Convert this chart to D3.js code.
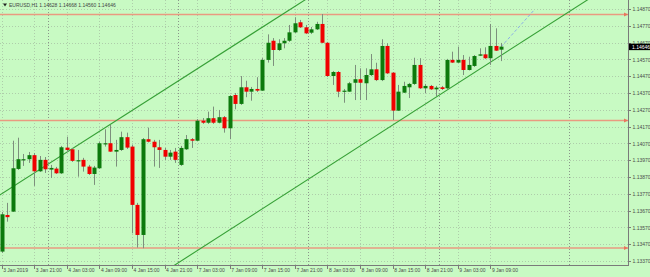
<!DOCTYPE html>
<html>
<head>
<meta charset="utf-8">
<script src="https://cdn.jsdelivr.net/npm/d3@7"></script>
<style>
  body { margin: 0; background: #c8fac3; }
  svg { display: block; font-family: "Liberation Sans", Arial, sans-serif; }
  .axis text { fill: #4a4a4a; font-size: 5px; }
  .axis path, .axis line { stroke: #7a7a7a; shape-rendering: crispEdges; }
</style>
</head>
<body>
<div class="svgContainer"></div>
<script>
// EURUSD H1, 3 Jan 2019 15:00 .. 9 Jan 2019 11:00
const symbolTitle = "EURUSD,H1";

const open = [
  1.13426, 1.13644, 1.13664, 1.13918, 1.13973, 1.13976, 1.14000, 1.13904, 1.13972, 1.13914,
  1.13920, 1.13892, 1.14045, 1.14035, 1.13967, 1.13972, 1.13932, 1.13888, 1.13922, 1.14069,
  1.14071, 1.14021, 1.14031, 1.14107, 1.14051, 1.13704, 1.13525, 1.14095, 1.14080, 1.14047,
  1.14031, 1.13991, 1.14021, 1.13942, 1.14035, 1.14095, 1.14086, 1.14205, 1.14193, 1.14220,
  1.14193, 1.14226, 1.14160, 1.14358, 1.14305, 1.14404, 1.14378, 1.14394, 1.14384, 1.14567,
  1.14681, 1.14626, 1.14666, 1.14681, 1.14731, 1.14791, 1.14761, 1.14729, 1.14749, 1.14781,
  1.14669, 1.14471, 1.14495, 1.14382, 1.14378, 1.14431, 1.14452, 1.14428, 1.14477, 1.14511,
  1.14447, 1.14650, 1.14491, 1.14265, 1.14372, 1.14404, 1.14424, 1.14537, 1.14398, 1.14412,
  1.14392, 1.14404, 1.14398, 1.14567, 1.14551, 1.14567, 1.14507, 1.14531, 1.14592, 1.14600,
  1.14577, 1.14650, 1.14628
];
const high = [
  1.13662, 1.13716, 1.14086, 1.14104, 1.14007, 1.14019, 1.14013, 1.13995, 1.13989, 1.13942,
  1.13930, 1.14055, 1.14110, 1.14043, 1.14031, 1.13984, 1.13942, 1.13936, 1.14080, 1.14154,
  1.14180, 1.14091, 1.14140, 1.14134, 1.14061, 1.13716, 1.14102, 1.14164, 1.14091, 1.14091,
  1.14043, 1.14031, 1.14043, 1.14055, 1.14120, 1.14102, 1.14215, 1.14221, 1.14259, 1.14289,
  1.14269, 1.14233, 1.14358, 1.14370, 1.14471, 1.14443, 1.14406, 1.14464, 1.14578, 1.14719,
  1.14697, 1.14690, 1.14697, 1.14775, 1.14821, 1.14805, 1.14775, 1.14763, 1.14794, 1.14840,
  1.14674, 1.14501, 1.14501, 1.14394, 1.14436, 1.14537, 1.14517, 1.14517, 1.14602, 1.14550,
  1.14690, 1.14666, 1.14495, 1.14418, 1.14437, 1.14430, 1.14580, 1.14577, 1.14424, 1.14418,
  1.14412, 1.14412, 1.14573, 1.14616, 1.14646, 1.14596, 1.14586, 1.14596, 1.14636, 1.14642,
  1.14781, 1.14755, 1.14668
];
const low = [
  1.13418, 1.13604, 1.13662, 1.13912, 1.13936, 1.13954, 1.13817, 1.13900, 1.13894, 1.13864,
  1.13888, 1.13888, 1.14019, 1.13960, 1.13872, 1.13902, 1.13882, 1.13823, 1.13918, 1.14051,
  1.14019, 1.13932, 1.14025, 1.14037, 1.13535, 1.13450, 1.13446, 1.14076, 1.13932, 1.13924,
  1.13972, 1.13972, 1.13954, 1.13936, 1.14031, 1.14043, 1.14084, 1.14186, 1.14186, 1.14186,
  1.14189, 1.14134, 1.14095, 1.14273, 1.14299, 1.14345, 1.14324, 1.14376, 1.14382, 1.14551,
  1.14531, 1.14620, 1.14636, 1.14674, 1.14727, 1.14757, 1.14721, 1.14721, 1.14745, 1.14666,
  1.14465, 1.14418, 1.14345, 1.14312, 1.14376, 1.14328, 1.14328, 1.14328, 1.14471, 1.14441,
  1.14441, 1.14483, 1.14209, 1.14263, 1.14370, 1.14340, 1.14418, 1.14394, 1.14370, 1.14388,
  1.14352, 1.14388, 1.14394, 1.14549, 1.14549, 1.14477, 1.14504, 1.14525, 1.14590, 1.14572,
  1.14537, 1.14620, 1.14560
];
const close = [
  1.13648, 1.13631, 1.13922, 1.13976, 1.13976, 1.14000, 1.13904, 1.13972, 1.13916, 1.13924,
  1.13892, 1.14047, 1.14031, 1.13966, 1.13970, 1.13932, 1.13888, 1.13926, 1.14071, 1.14071,
  1.14021, 1.14031, 1.14107, 1.14045, 1.13704, 1.13525, 1.14095, 1.14080, 1.14047, 1.14031,
  1.13991, 1.14015, 1.13972, 1.14043, 1.14095, 1.14086, 1.14205, 1.14193, 1.14220, 1.14193,
  1.14226, 1.14160, 1.14352, 1.14305, 1.14404, 1.14378, 1.14394, 1.14384, 1.14567, 1.14669,
  1.14626, 1.14666, 1.14681, 1.14731, 1.14785, 1.14761, 1.14725, 1.14749, 1.14781, 1.14669,
  1.14471, 1.14495, 1.14378, 1.14384, 1.14428, 1.14452, 1.14431, 1.14477, 1.14511, 1.14447,
  1.14650, 1.14487, 1.14265, 1.14378, 1.14412, 1.14424, 1.14537, 1.14398, 1.14412, 1.14392,
  1.14402, 1.14394, 1.14567, 1.14551, 1.14567, 1.14507, 1.14537, 1.14590, 1.14600, 1.14577,
  1.14650, 1.14622, 1.14646
];

// bar index of each time label
const timeTickIdx = [0, 6, 12, 18, 24, 30, 36, 42, 48, 54, 60, 66, 72, 78, 84, 90];
const timeTickLabels = [
  "3 Jan 2019", "3 Jan 21:00", "4 Jan 03:00", "4 Jan 09:00", "4 Jan 15:00", "4 Jan 21:00",
  "7 Jan 03:00", "7 Jan 09:00", "7 Jan 15:00", "7 Jan 21:00", "8 Jan 03:00", "8 Jan 09:00",
  "8 Jan 15:00", "8 Jan 21:00", "9 Jan 03:00", "9 Jan 09:00"
];
// midnight bars (day separators)
const daySepIdx = [9, 33, 57, 81, 105];

const priceTicks = [
  1.13370, 1.13470, 1.13570, 1.13670, 1.13770, 1.13870, 1.13970, 1.14070,
  1.14170, 1.14270, 1.14370, 1.14470, 1.14570, 1.14670, 1.14770, 1.14870
];

// horizontal levels and trend lines as [bar index, price]
const levels = [1.14837, 1.14206, 1.13447];
const channelUpper = [[0, 1.13770], [50, 1.14803]];
const channelLower = [[60, 1.13930], [90, 1.14553]];
const projection = [[92, 1.14646], [98, 1.14862]];

const graphProps = {
  width: 650,
  height: 277,
  plotRight: 628,
  plotBottom: 265,
  barWidth: 4
};

const svg = d3
  .select(".svgContainer")
  .append("svg")
  .attr("width", graphProps.width)
  .attr("height", graphProps.height);

const xScale = d3.scaleLinear().domain([-0.31, 115.34]).range([0, graphProps.plotRight]);
const yScale = d3.scaleLinear().domain([1.1337, 1.1487]).range([261, 9]);

svg
  .append("clipPath")
  .attr("id", "plot-cp")
  .append("rect")
  .attr("x", 0)
  .attr("y", 0)
  .attr("width", graphProps.plotRight)
  .attr("height", graphProps.plotBottom);

const plot = svg.append("g").attr("clip-path", "url(#plot-cp)");

// grid
plot
  .append("g")
  .selectAll("line")
  .data(priceTicks)
  .enter()
  .append("line")
  .attr("x1", 0)
  .attr("x2", graphProps.plotRight)
  .attr("y1", d => Math.round(yScale(d)) + 0.5)
  .attr("y2", d => Math.round(yScale(d)) + 0.5)
  .attr("stroke", "#aecdaa")
  .attr("stroke-dasharray", "1,2");

plot
  .append("g")
  .selectAll("line")
  .data(timeTickIdx)
  .enter()
  .append("line")
  .attr("x1", d => Math.round(xScale(d)) + 0.5)
  .attr("x2", d => Math.round(xScale(d)) + 0.5)
  .attr("y1", 0)
  .attr("y2", graphProps.plotBottom)
  .attr("stroke", "#aecdaa")
  .attr("stroke-dasharray", "1,2");

plot
  .append("g")
  .selectAll("line")
  .data(daySepIdx)
  .enter()
  .append("line")
  .attr("x1", d => Math.round(xScale(d - 0.5)) + 0.5)
  .attr("x2", d => Math.round(xScale(d - 0.5)) + 0.5)
  .attr("y1", 0)
  .attr("y2", graphProps.plotBottom)
  .attr("stroke", "#8a968a")
  .attr("stroke-dasharray", "1,2");

// horizontal levels
plot
  .append("g")
  .selectAll("line")
  .data(levels)
  .enter()
  .append("line")
  .attr("x1", 0)
  .attr("x2", graphProps.plotRight)
  .attr("y1", d => yScale(d))
  .attr("y2", d => yScale(d))
  .attr("stroke", "#e99a80")
  .attr("stroke-width", 1.4);

svg
  .append("g")
  .selectAll("path")
  .data(levels)
  .enter()
  .append("path")
  .attr("d", d => {
    const y = yScale(d);
    return `M${graphProps.plotRight - 4},${y - 2}L${graphProps.plotRight},${y}L${graphProps.plotRight - 4},${y + 2}Z`;
  })
  .attr("fill", "#e8765e");

// trend lines, extended across the plot
const extend = pts => {
  const [[i0, p0], [i1, p1]] = pts;
  const k = (p1 - p0) / (i1 - i0);
  return [[-5, p0 + k * (-5 - i0)], [120, p0 + k * (120 - i0)]];
};
const line = d3.line().x(d => xScale(d[0])).y(d => yScale(d[1]));

plot
  .append("path")
  .attr("d", line(extend(channelUpper)))
  .attr("fill", "none")
  .attr("stroke", "#36a036")
  .attr("stroke-width", 1.1);

plot
  .append("path")
  .attr("d", line(extend(channelLower)))
  .attr("fill", "none")
  .attr("stroke", "#36a036")
  .attr("stroke-width", 1.1);

plot
  .append("path")
  .attr("d", line(projection))
  .attr("fill", "none")
  .attr("stroke", "#8aaee6")
  .attr("stroke-width", 1)
  .attr("stroke-dasharray", "3,2");

// candles
const bars = d3.range(open.length).map(i => ({
  i,
  o: open[i],
  h: high[i],
  l: low[i],
  c: close[i]
}));
const upColor = "#0c7a0c";
const downColor = "#f00000";

const candles = plot
  .append("g")
  .selectAll("g")
  .data(bars)
  .enter()
  .append("g");

candles
  .append("line")
  .attr("x1", d => Math.round(xScale(d.i)) + 0.5)
  .attr("x2", d => Math.round(xScale(d.i)) + 0.5)
  .attr("y1", d => yScale(d.h))
  .attr("y2", d => yScale(d.l))
  .attr("stroke", "#7d8f7d")
  .attr("stroke-width", 1);

candles
  .append("rect")
  .attr("x", d => Math.round(xScale(d.i)) - 1.5)
  .attr("width", graphProps.barWidth)
  .attr("y", d => yScale(Math.max(d.o, d.c)))
  .attr("height", d => Math.max(1.2, Math.abs(yScale(d.o) - yScale(d.c))))
  .attr("fill", d => (d.c >= d.o ? upColor : downColor));

// frame
svg
  .append("line")
  .attr("x1", graphProps.plotRight + 0.5)
  .attr("x2", graphProps.plotRight + 0.5)
  .attr("y1", 0)
  .attr("y2", graphProps.plotBottom)
  .attr("stroke", "#7a7a7a");

// price axis
const yAxis = d3
  .axisRight(yScale)
  .tickValues(priceTicks)
  .tickFormat(d3.format(".5f"))
  .tickSize(2)
  .tickPadding(2);

svg
  .append("g")
  .attr("class", "axis")
  .attr("transform", `translate(${graphProps.plotRight + 0.5},0)`)
  .call(yAxis)
  .call(g => g.select(".domain").remove());

// current price label
const last = close[close.length - 1];
svg
  .append("rect")
  .attr("x", graphProps.plotRight + 1)
  .attr("y", yScale(last) - 3)
  .attr("width", 21)
  .attr("height", 6.5)
  .attr("fill", "#000");
svg
  .append("text")
  .attr("x", graphProps.plotRight + 4)
  .attr("y", yScale(last) + 2)
  .attr("fill", "#fff")
  .attr("font-size", 5)
  .text(d3.format(".5f")(last));

// time axis
const xAxis = d3
  .axisBottom(xScale)
  .tickValues(timeTickIdx)
  .tickFormat((d, i) => timeTickLabels[i])
  .tickSize(3)
  .tickPadding(2);

svg
  .append("g")
  .attr("class", "axis")
  .attr("transform", `translate(0,${graphProps.plotBottom + 0.5})`)
  .call(xAxis)
  .call(g => g.select(".domain").attr("d", `M0,0H${graphProps.plotRight + 0.5}`))
  .call(g => g.selectAll(".tick text").attr("text-anchor", "start").attr("x", 1).attr("y", 3));

// header
svg
  .append("path")
  .attr("d", "M3,3.5L7,3.5L5,6.5Z")
  .attr("fill", "#222");
svg
  .append("text")
  .attr("x", 9)
  .attr("y", 7)
  .attr("fill", "#444")
  .attr("font-size", 5)
  .text(`${symbolTitle}  ${[open, high, low, close].map(a => a[a.length - 1].toFixed(5)).join(" ")}`);
</script>
</body>
</html>
